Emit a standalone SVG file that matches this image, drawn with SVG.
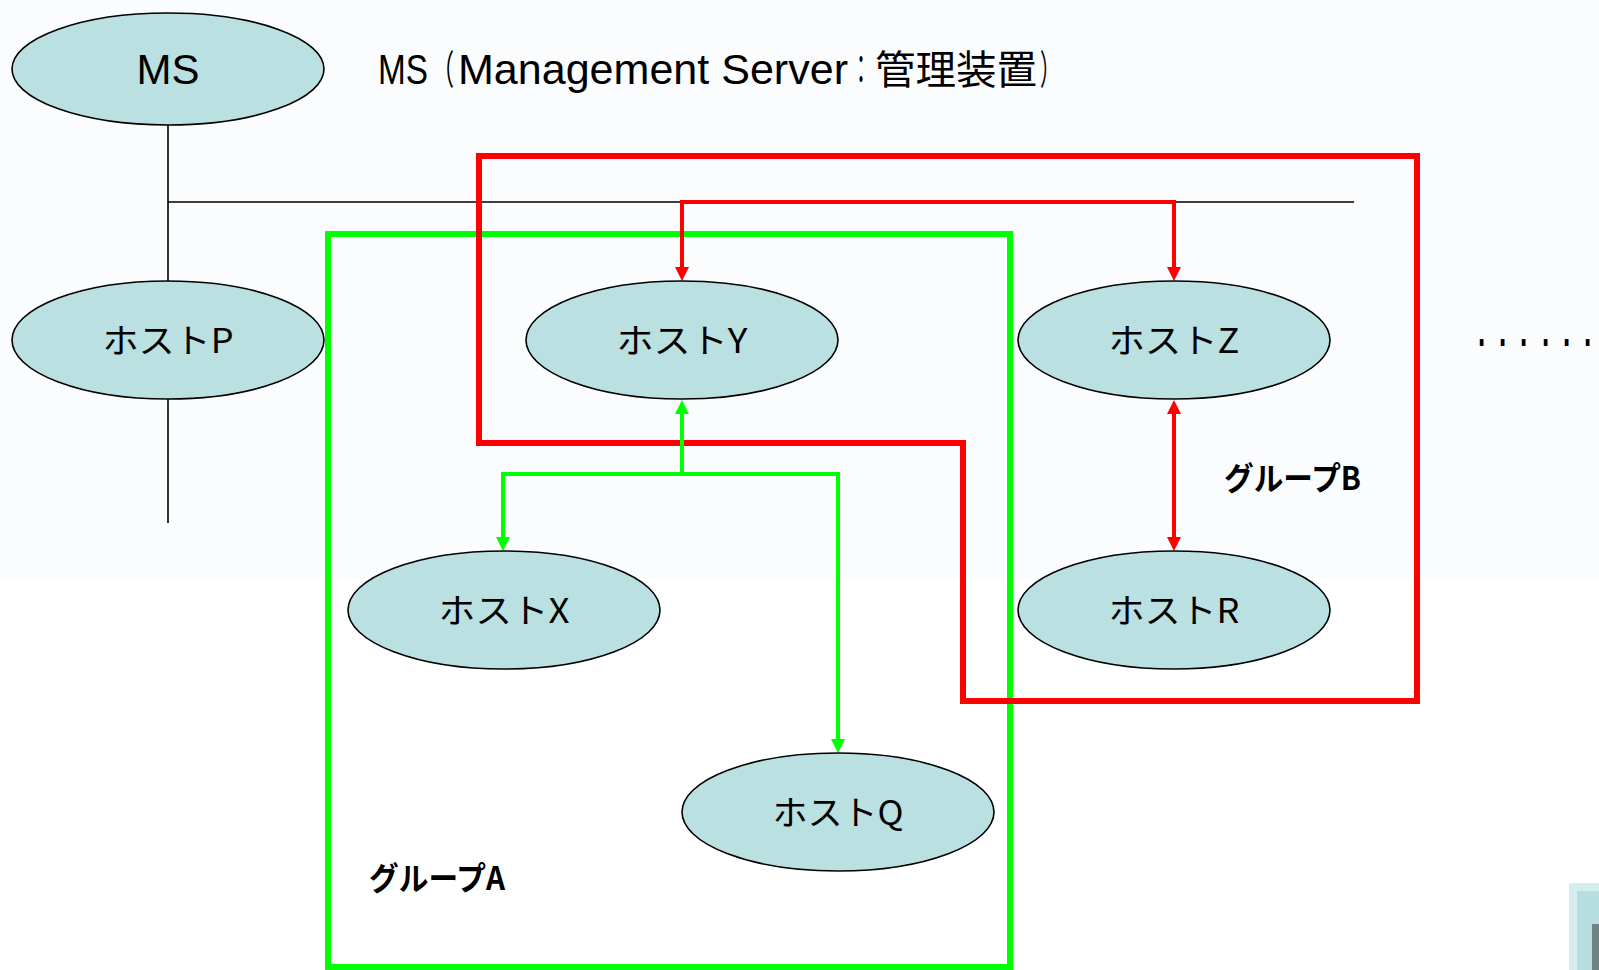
<svg xmlns="http://www.w3.org/2000/svg" width="1599" height="970" viewBox="0 0 1599 970">
  <style>
    .node ellipse { fill: #bae0e2; stroke: #000; stroke-width: 1.6; }
    .node text { font-family: "Noto Sans CJK JP", sans-serif; font-size: 34px; fill: #000; text-anchor: middle; }
    .wire { fill: none; stroke: #000; stroke-width: 1.6; }
    .red { fill: none; stroke: #ff0000; stroke-width: 4; }
    .green { fill: none; stroke: #00ff00; stroke-width: 4; }
    .box-red { fill: none; stroke: #ff0000; stroke-width: 6; stroke-linejoin: miter; }
    .box-green { fill: none; stroke: #00ff00; stroke-width: 6; stroke-linejoin: miter; }
    .label { font-family: "Noto Sans CJK JP", sans-serif; font-weight: bold; font-size: 32px; fill: #000; }
    .title { font-family: "Liberation Sans", "Noto Sans CJK JP", sans-serif; font-size: 43px; fill: #000; }
    .title .cjk { font-family: "Noto Sans CJK JP", sans-serif; font-size: 40px; }
  </style>
  <defs>
    <marker id="arrow-red" markerUnits="userSpaceOnUse" markerWidth="14" markerHeight="14" refX="10" refY="7" orient="auto-start-reverse" viewBox="0 0 14 14">
      <path d="M0,0 L14,7 L0,14 z" fill="#ff0000"/>
    </marker>
    <marker id="arrow-green" markerUnits="userSpaceOnUse" markerWidth="14" markerHeight="14" refX="10" refY="7" orient="auto-start-reverse" viewBox="0 0 14 14">
      <path d="M0,0 L14,7 L0,14 z" fill="#00ff00"/>
    </marker>
  </defs>

  <!-- page background -->
  <rect x="0" y="0" width="1599" height="970" fill="#ffffff"/>
  <rect x="0" y="0" width="1599" height="578" fill="#fbfcfe"/>

  <!-- network bus -->
  <g id="bus">
    <line class="wire" x1="168" y1="125" x2="168" y2="281"/>
    <line class="wire" x1="168" y1="202" x2="1354" y2="202"/>
    <line class="wire" x1="168" y1="399" x2="168" y2="523"/>
  </g>

  <!-- group frames -->
  <g id="group-a">
    <rect class="box-green" x="328" y="234" width="682" height="733"/>
    <text class="label" x="369" y="890" textLength="136" lengthAdjust="spacingAndGlyphs">グループA</text>
  </g>
  <g id="group-b">
    <path class="box-red" d="M479,156 H1417 V701 H963 V443 H479 Z"/>
    <text class="label" x="1224" y="490" textLength="137" lengthAdjust="spacingAndGlyphs">グループB</text>
  </g>

  <!-- connectors -->
  <g id="connectors">
    <path class="red" d="M682,277 V202 H1174 V277" marker-start="url(#arrow-red)" marker-end="url(#arrow-red)"/>
    <path class="red" d="M1174,404 V547" marker-start="url(#arrow-red)" marker-end="url(#arrow-red)"/>
    <path class="green" d="M682,404 V474" marker-start="url(#arrow-green)"/>
    <path class="green" d="M503,547 V474 H838 V749" marker-start="url(#arrow-green)" marker-end="url(#arrow-green)"/>
  </g>

  <!-- nodes -->
  <g id="node-ms" class="node">
    <ellipse cx="168" cy="69" rx="156" ry="56"/>
    <text x="168" y="84" style="font-family:'Liberation Sans',sans-serif;font-size:42px">MS</text>
  </g>
  <g id="node-p" class="node">
    <ellipse cx="168" cy="340" rx="156" ry="59"/>
    <text x="168" y="353" textLength="131" lengthAdjust="spacingAndGlyphs">ホストP</text>
  </g>
  <g id="node-y" class="node">
    <ellipse cx="682" cy="340" rx="156" ry="59"/>
    <text x="682" y="353" textLength="131" lengthAdjust="spacingAndGlyphs">ホストY</text>
  </g>
  <g id="node-z" class="node">
    <ellipse cx="1174" cy="340" rx="156" ry="59"/>
    <text x="1174" y="353" textLength="131" lengthAdjust="spacingAndGlyphs">ホストZ</text>
  </g>
  <g id="node-x" class="node">
    <ellipse cx="504" cy="610" rx="156" ry="59"/>
    <text x="504" y="623" textLength="131" lengthAdjust="spacingAndGlyphs">ホストX</text>
  </g>
  <g id="node-r" class="node">
    <ellipse cx="1174" cy="610" rx="156" ry="59"/>
    <text x="1174" y="623" textLength="131" lengthAdjust="spacingAndGlyphs">ホストR</text>
  </g>
  <g id="node-q" class="node">
    <ellipse cx="838" cy="812" rx="156" ry="59"/>
    <text x="838" y="825" textLength="131" lengthAdjust="spacingAndGlyphs">ホストQ</text>
  </g>

  <!-- caption -->
  <text class="title" y="84"><tspan x="378" textLength="50" lengthAdjust="spacingAndGlyphs">MS</tspan><tspan class="cjk" x="432" textLength="22" lengthAdjust="spacingAndGlyphs">（</tspan><tspan x="458" textLength="390" lengthAdjust="spacingAndGlyphs">Management Server</tspan><tspan class="cjk" x="851" textLength="20" lengthAdjust="spacingAndGlyphs">：</tspan><tspan class="cjk" x="875" textLength="162" lengthAdjust="spacingAndGlyphs">管理装置</tspan><tspan class="cjk" x="1040" textLength="20" lengthAdjust="spacingAndGlyphs">）</tspan></text>

  <!-- continuation dots -->
  <g transform="translate(0,346) scale(1,1.8)">
    <text x="1478 1499 1520 1542 1563 1584" y="0" style="font-family:'Liberation Sans',sans-serif;font-size:26px;font-weight:bold">......</text>
  </g>

  <!-- clipped corner button -->
  <g id="corner-button">
    <rect x="1569" y="883" width="30" height="87" fill="#d4edef"/>
    <rect x="1577" y="891" width="22" height="79" fill="#b7dfe1"/>
    <path d="M1592,924 H1599 V970 H1592 Z" fill="#6e8384"/>
  </g>
</svg>
